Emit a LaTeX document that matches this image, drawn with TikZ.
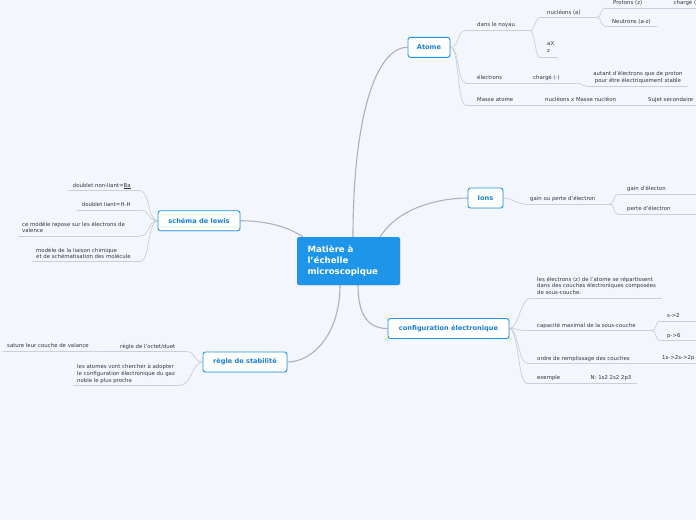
\documentclass[tikz,border=0pt]{standalone}
\usepackage{fontspec}
\setmainfont{DejaVu Sans}
\usetikzlibrary{shadows}
\pgfdeclarelayer{background}
\pgfsetlayers{background,main}
\definecolor{bgc}{HTML}{F3F6FD}
\definecolor{mainblue}{HTML}{1E95E8}
\definecolor{topicblue}{HTML}{1A80DC}
\definecolor{mconn}{HTML}{ADB1BD}
\definecolor{sconn}{HTML}{CACED7}
\definecolor{txtc}{HTML}{363636}
\tikzset{
 central/.style={fill=mainblue, rounded corners=2pt, minimum width=103pt, minimum height=48pt, inner sep=0pt, text=white, text width=82pt, align=left, font=\fontsize{8.6}{11.2}\selectfont\bfseries, drop shadow={opacity=0.12, shadow xshift=0.6pt, shadow yshift=-0.8pt}},
 topic/.style={draw=mainblue, line width=0.9pt, fill=white, rounded corners=2.5pt, minimum height=20pt, inner sep=0pt, text=topicblue, font=\fontsize{6.6}{8}\selectfont\bfseries, drop shadow={opacity=0.15, shadow xshift=0.8pt, shadow yshift=-0.8pt}},
 sub/.style={inner sep=0pt, text=txtc, font=\fontsize{5.4}{6.7}\selectfont, align=left},
 mc/.style={draw=mconn, line width=1.1pt},
 sc/.style={draw=sconn, line width=0.7pt},
 ul/.style={draw=sconn, line width=0.7pt},
}
\begin{document}
\begin{tikzpicture}[x=1pt,y=-1pt]
\begin{pgfonlayer}{background}
\fill[bgc] (0,0) rectangle (696,520);
\end{pgfonlayer}
\useasboundingbox (0,0) rectangle (696,520);

% central and topics
\node[central] (c) at (348.5,261) {Matière à\\l'échelle\\microscopique};
\node[topic, minimum width=42pt] (atome) at (429,47.3) {Atome};
\node[topic, minimum width=35pt] (ions) at (485.5,198) {Ions};
\node[topic, minimum width=121pt] (config) at (448.5,328.5) {configuration électronique};
\node[topic, minimum width=82pt] (lewis) at (199,220.7) {schéma de lewis};
\node[topic, minimum width=84pt] (stab) at (245,362) {règle de stabilité};

\coordinate (cA) at (353,237);
\coordinate (cI) at (380,237);
\coordinate (cL) at (303,237);
\coordinate (cC) at (358,285);
\coordinate (cS) at (340,285);

% ---------- Atome ----------
\coordinate (a1s) at (466,30.5); \coordinate (a1e) at (530,30.5);
\node[sub,anchor=base west] (a1) at (477,26) {dans le noyau};
\coordinate (a11s) at (540,17.5); \coordinate (a11e) at (597,17.5);
\node[sub,anchor=base west] (a11) at (547,14) {nucléons (a)};
\coordinate (a111s) at (605,8); \coordinate (a111e) at (668,8);
\node[sub,anchor=base west] (a111) at (613,4.5) {Protons (z)};
\coordinate (a1111e) at (696,8);
\node[sub,anchor=base west] (a1111) at (673.5,4.5) {chargé (};
\coordinate (a112s) at (605,26); \coordinate (a112e) at (657,26);
\node[sub,anchor=base west] (a112) at (612,23) {Neutrons (a-z)};
\coordinate (a12s) at (540,57.5); \coordinate (a12e) at (558,57.5);
\node[sub,anchor=north west] (a12) at (547,41.3) {aX\\z};
\coordinate (a2s) at (466,83); \coordinate (a2e) at (528,83);
\node[sub,anchor=base west] (a2) at (477,79) {électrons};
\coordinate (a21e) at (577,83);
\node[sub,anchor=base west] (a21) at (533,79) {chargé (-)};
\coordinate (a211s) at (586,86); \coordinate (a211e) at (688,86);
\node[sub,anchor=north,align=center] (a211) at (638,71.3) {autant d'électrons que de proton\\pour être électriquement stable};
\coordinate (a3s) at (466,105.5); \coordinate (a3e) at (530,105.5);
\node[sub,anchor=base west] (a3) at (477,101.5) {Masse atome};
\coordinate (a31e) at (633,105.5);
\node[sub,anchor=base west] (a31) at (545,101.5) {nucléons x Masse nucléon};
\coordinate (a311e) at (696,105.5);
\node[sub,anchor=base west] (a311) at (648,101.5) {Sujet secondaire};

% ---------- Ions ----------
\coordinate (i1s) at (525,204); \coordinate (i1e) at (610,204);
\node[sub,anchor=base west] (i1) at (530,200) {gain ou perte d'électron};
\coordinate (i11s) at (618,194.3); \coordinate (i11e) at (696,194.3);
\node[sub,anchor=base west] (i11) at (627,190) {gain d'électon};
\coordinate (i12s) at (618,214.3); \coordinate (i12e) at (696,214.3);
\node[sub,anchor=base west] (i12) at (627,210) {perte d'électron};

% ---------- configuration ----------
\coordinate (c1s) at (530,298.3); \coordinate (c1e) at (662,298.3);
\node[sub,anchor=north west] (c1) at (537,276.5) {les électrons (z) de l'atome se répartissent\\dans des couches électroniques composées\\de sous-couche.};
\coordinate (c2s) at (527,330.7); \coordinate (c2e) at (652,330.7);
\node[sub,anchor=base west] (c2) at (537,327) {capacité maximal de la sous-couche};
\coordinate (c21s) at (660,321); \coordinate (c21e) at (696,321);
\node[sub,anchor=base west] (c21) at (667,317.5) {s->2};
\coordinate (c22s) at (660,340.7); \coordinate (c22e) at (696,340.7);
\node[sub,anchor=base west] (c22) at (667,337) {p->6};
\coordinate (c3s) at (527,363); \coordinate (c3e) at (658,363);
\node[sub,anchor=base west] (c3) at (537,360) {ordre de remplissage des couches};
\coordinate (c31e) at (696,363);
\node[sub,anchor=base west] (c31) at (662,359.5) {1s->2s->2p};
\coordinate (c4s) at (527,383.5); \coordinate (c4e) at (588,383.5);
\node[sub,anchor=base west] (c4) at (537,379.5) {exemple};
\coordinate (c41e) at (637,383.5);
\node[sub,anchor=base west] (c41) at (590.5,379.5) {N: 1s2 2s2 2p3};

% ---------- lewis ----------
\coordinate (l1s) at (140,190.7); \coordinate (l1e) at (68,190.7);
\node[sub,anchor=base west] (l1) at (72.7,187) {doublet non-liant=\underline{Ba}};
\coordinate (l2s) at (140,210); \coordinate (l2e) at (77,210);
\node[sub,anchor=base west] (l2) at (81.7,206) {doublet liant=H-H};
\coordinate (l3s) at (140,236); \coordinate (l3e) at (18,236);
\node[sub,anchor=north west] (l3) at (22,221.5) {ce modèle repose sur les électrons de\\valence};
\coordinate (l4s) at (140,261.7); \coordinate (l4e) at (32,261.7);
\node[sub,anchor=north west] (l4) at (36,247.5) {modèle de la liaison chimique\\et de schématisation des molécule};

% ---------- stabilite ----------
\coordinate (s1s) at (187,351.7); \coordinate (s1e) at (97,351.7);
\node[sub,anchor=base west] (s1) at (120,348.5) {règle de l'octet/duet};
\coordinate (s11s) at (92,351); \coordinate (s11e) at (3,351);
\node[sub,anchor=base west] (s11) at (7,347.5) {sature leur couche de valance};
\coordinate (s2s) at (181,385); \coordinate (s2e) at (73,385);
\node[sub,anchor=north west] (s2) at (77,364.2) {les atomes vont chercher à adopter\\le configuration électronique du gaz\\noble le plus proche};

\begin{pgfonlayer}{background}
% main connectors
\draw[mc] (cA) .. controls (353,120) and (375,47.3) .. (atome.west);
\draw[mc] (cI) .. controls (400,205) and (445,198) .. (ions.west);
\draw[mc] (cL) .. controls (290,228) and (270,221) .. (lewis.east);
\draw[mc] (cC) .. controls (358,315) and (368,328.5) .. (config.west);
\draw[mc] (cS) .. controls (340,335) and (312,362) .. (stab.east);
% underlines
\foreach \s/\e in {a1s/a1e,a11s/a11e,a111s/a111e,a111e/a1111e,a112s/a112e,a12s/a12e,a2s/a2e,a2e/a21e,a211s/a211e,a3s/a3e,a3e/a31e,a31e/a311e,i1s/i1e,i11s/i11e,i12s/i12e,c1s/c1e,c2s/c2e,c21s/c21e,c22s/c22e,c3s/c3e,c3e/c31e,c4s/c4e,c4e/c41e,l1s/l1e,l2s/l2e,l3s/l3e,l4s/l4e,s1s/s1e,s11s/s11e,s2s/s2e}
  \draw[ul] (\s) -- (\e);
% sub connectors (right side)
\foreach \p/\c in {atome.east/a1s,atome.east/a2s,atome.east/a3s,ions.east/i1s,config.east/c1s,config.east/c2s,config.east/c3s,config.east/c4s}
  \draw[sc] (\p) .. controls +(9,0) and +(-9,0) .. (\c);
\foreach \p/\c in {a1e/a11s,a1e/a12s,a11e/a111s,a11e/a112s,a21e/a211s,i1e/i11s,i1e/i12s,c2e/c21s,c2e/c22s}
  \draw[sc] (\p) .. controls +(5,0) and +(-5,0) .. (\c);
% sub connectors (left side)
\foreach \p/\c in {lewis.west/l1s,lewis.west/l2s,lewis.west/l3s,lewis.west/l4s,stab.west/s1s,stab.west/s2s}
  \draw[sc] (\p) .. controls +(-10,0) and +(10,0) .. (\c);
\draw[sc] (s1e) .. controls +(-3,0) and +(3,0) .. (s11s);
\end{pgfonlayer}
\end{tikzpicture}
\end{document}
